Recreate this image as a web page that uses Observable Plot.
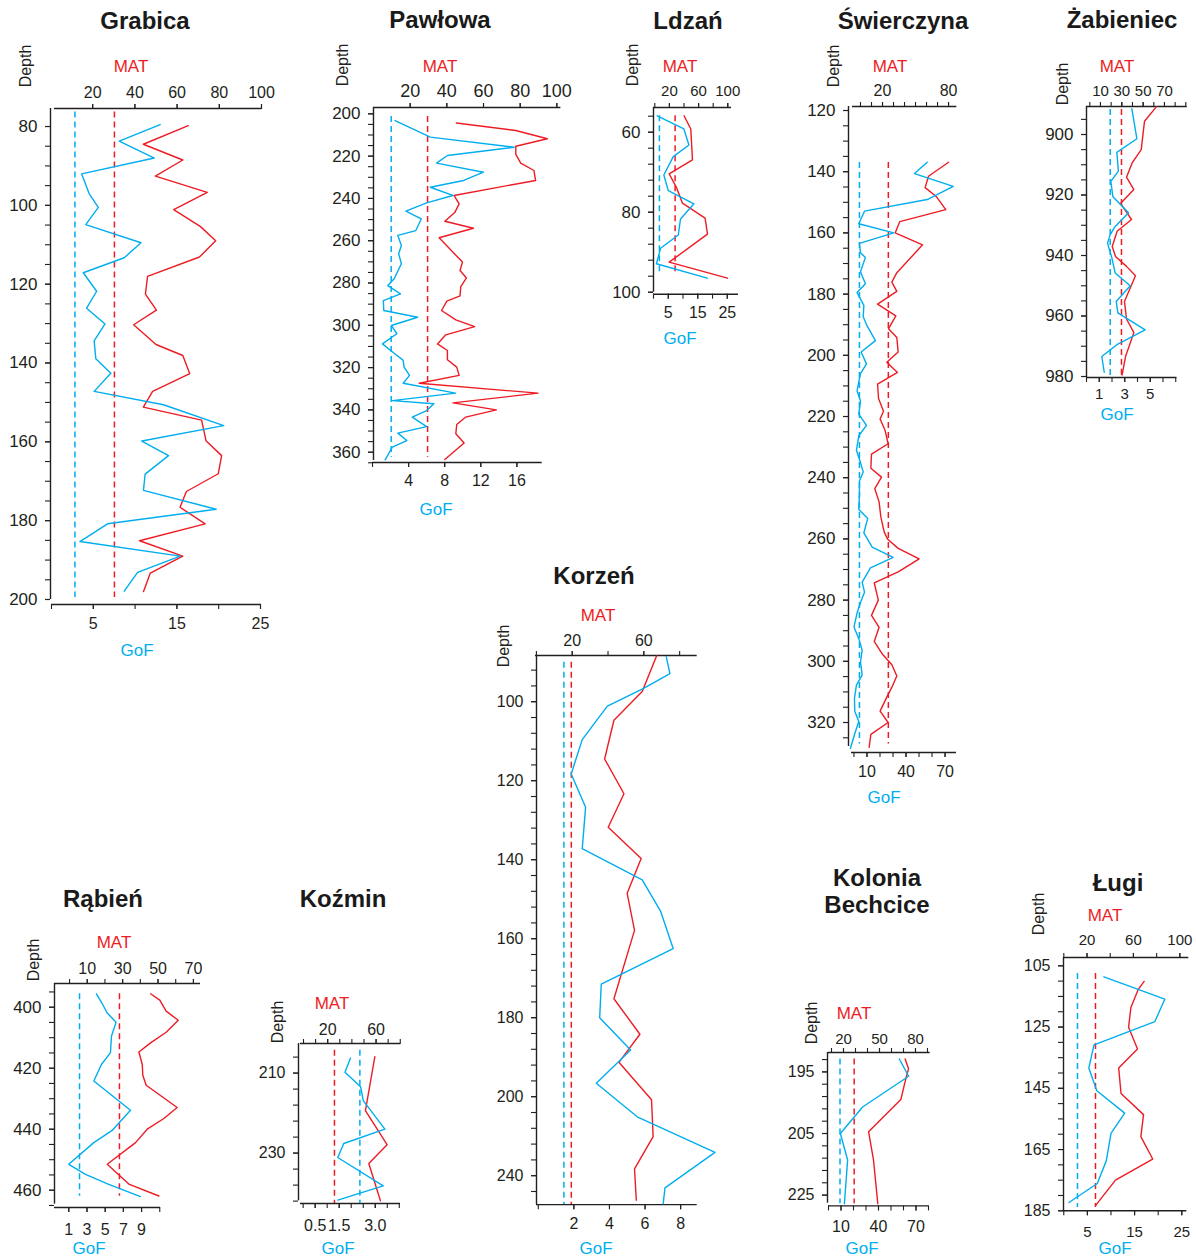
<!DOCTYPE html>
<html><head><meta charset="utf-8">
<script src="https://cdn.jsdelivr.net/npm/d3@7"></script>
<script src="https://cdn.jsdelivr.net/npm/@observablehq/plot@0.6"></script>
<style>
body{margin:0;background:#fff;}
#page{position:relative;width:1196px;height:1258px;overflow:hidden;background:#fff;font-family:'Liberation Sans',Arial,Helvetica,sans-serif;}
.lbl{position:absolute;white-space:pre;text-align:center;line-height:27px;}
</style></head>
<body><div id="page"></div>
<script>
// ---------------- DATA: [depth, value] pairs ----------------
const grabicaMAT = [[79.8,65.3],[84.5,44],[88.5,62.7],[92.6,49.7],[96.7,74.3],[101.1,58.4],[105.4,71.1],[109,78.3],[113.1,70.6],[118,46],[122.5,45],[126.6,50.2],[130.3,39.4],[135.3,50],[138.1,62.7],[142.7,66],[147.2,48.4],[151.2,44],[154.5,71.6],[159.7,73.7],[163.5,81.1],[168.1,79.5],[172.6,64.4],[176.6,61.4],[180.8,73.3],[185.1,42.2],[189,62.7],[193.3,47.3],[198,44.1]];
const grabicaGoF = [[79.5,13],[83.7,8.1],[88,12.3],[92,3.6],[97,4.5],[100.5,5.6],[104.9,4.1],[109.5,10.7],[113.3,8.7],[117.1,3.8],[121.8,5.4],[126.1,4.2],[130.1,6.4],[134.4,5.1],[138.9,5.3],[142.6,7.1],[147.2,5.1],[150.6,13.4],[155.9,20.6],[159.8,10.8],[163.5,14],[168.2,11.2],[172.3,11],[177.1,19.7],[180.8,6.7],[185.3,3.4],[189,15.4],[193.1,10.3],[197.9,8.7]];
const grabicaRef = [30.3, 2.8];

const pawlowaMAT = [[204.3,45.2],[207.9,77.6],[211.8,94.8],[215.3,77.6],[219.2,77.6],[223.3,80.3],[226.8,87.5],[231.5,88.4],[238.6,43.9],[242.6,46.7],[246.7,44.3],[250.8,38.9],[254.1,54.5],[258.6,35.8],[270.1,48.5],[274.1,47.2],[277.6,50.7],[281.7,47.6],[286.1,47.2],[288.6,40],[293,37.1],[297.4,44.9],[300.6,55.2],[304.5,39.4],[308.8,34.9],[311.9,40.3],[316.3,40.3],[319.8,45.4],[323.7,46.7],[327.4,24.9],[332.1,89.7],[336.7,43.4],[340,67],[343.4,50.3],[346.9,45.4],[351.3,44.9],[355.7,49.4],[363.5,38.9]];
const pawlowaGoF = [[203.2,2.5],[211,6.4],[215.8,15.7],[219.7,8.3],[223.3,7.1],[227.6,12.3],[231.5,10.1],[234.7,6.4],[238.6,8.9],[242.1,6],[246,3.7],[249.7,5.4],[255.2,4.8],[257.5,2.8],[262.3,3.2],[266.2,2.9],[270.9,3.2],[278,2.4],[281.2,1.7],[285.1,3.1],[288.3,1.2],[293,1.25],[296.2,5],[300.1,2.1],[304,2.7],[308.8,1.1],[313.2,2.4],[316.6,3.4],[319.8,3.5],[323.7,4.1],[327.4,3.4],[332.1,9.2],[335.6,2.2],[337.1,6.8],[340.3,6],[343.4,4.4],[347.9,6],[351,2.8],[354.5,3.8],[357.6,2.2],[363.6,1.4]];
const pawlowaRef = [29.5, 2.07];

const ldzanMAT = [[55.9,40.1],[59.2,49.3],[66.9,51.6],[70.4,19.6],[74,30.1],[77.75,37.9],[81.5,68.9],[85.5,72.2],[92.5,19.6],[96.5,99.6]];
const ldzanGoF = [[55.9,1.25],[59.2,10.3],[63.2,12],[66.1,6.7],[70.7,3.5],[74.6,5],[77.9,13.7],[81.7,9.15],[85.7,8.4],[89,2.4],[92.9,1],[96.5,18.2]];
const ldzanRef = [27.8, 2.0];

const swierczynaMAT = [[136.9,80],[141.5,61.8],[145.2,58.7],[148.2,69.1],[152.4,77.5],[156.3,35.7],[160,31.5],[163.9,56.4],[173,33],[176.1,28.5],[179.1,33],[183.3,15.5],[187.1,32.1],[191.3,25.5],[194.2,33],[198.9,34.2],[202.3,23.9],[205.6,33.6],[209.4,15.5],[214.1,16.4],[218.3,20.9],[220.8,17.8],[224.6,22.4],[228.9,25.1],[232.3,10],[236.9,9.4],[239.8,19.1],[243.6,13],[247.9,16.9],[252.9,18.5],[257.7,21.5],[260,24.5],[263.1,34.2],[266.5,53.3],[270.7,34.7],[274.4,12.5],[280,16.2],[285,10],[288.9,16.9],[293.5,12.5],[297.7,20],[301.1,28.5],[304.8,33],[308.7,28.2],[311.7,23.9],[316.3,17.8],[320,25.1],[323.9,9.4],[328.1,7.9]];
const swierczynaGoF = [[136.9,56.3],[140.6,46.5],[144.8,76.3],[149.1,56.3],[152.9,8.1],[157,3.7],[160,30.6],[163.4,4.2],[166.5,5],[168,8.8],[172.7,5],[176.6,8.8],[179.5,2.4],[183.7,7.6],[187.4,7.1],[190.4,10.1],[195.2,16.5],[198.9,5.5],[202.8,9.6],[206,5],[208.7,3.7],[211.6,2.4],[214.9,5],[219.2,3.7],[222.9,9.6],[226.3,3.7],[231,1.9],[234.4,4.5],[238.1,7.1],[241.1,4.2],[245.3,4.2],[250.4,3.7],[253.3,10.6],[258,7.6],[262.7,14],[266,30.1],[269.5,12.7],[274.1,6.3],[277.4,8.1],[280.8,5],[284.2,2.4],[288.8,0],[292.6,3.7],[296.4,6.3],[300.2,5],[304.5,6.3],[307.8,1.9],[312,0.4],[316.3,0.6],[319.7,3.7],[323.9,0.4],[328.4,-2.7]];
const swierczynaRef = [25.3, 4.2];

const zabieniecMAT = [[890.8,62.5],[895.6,51.3],[905,48.2],[909.4,39.7],[914.1,34.4],[918.2,41.3],[922.8,28.8],[928.1,39.1],[932,25.6],[937,21],[940.3,24.1],[943.6,34.4],[946.7,42.8],[955.2,32.5],[961,34.4],[965.5,41.3],[973.4,33.5],[979.5,30.3]];
const zabieniecGoF = [[891.5,3.56],[901.4,3.95],[905.9,2.38],[912.1,2.5],[915.5,1.91],[920.6,2.07],[925.9,3.3],[930.4,2.25],[933.1,1.86],[935.9,1.65],[940.8,1.99],[945.8,2.25],[950,3.43],[955.2,2.33],[959,2.46],[964.6,4.6],[969.5,2.38],[973.4,1.2],[978.6,1.39]];
const zabieniecRef = [29.7, 1.86];

const korzenMAT = [[88.4,67.1],[97.4,59.1],[104.7,43.3],[114.5,38.1],[123.3,48.9],[131.8,40.1],[139.7,58.5],[148.5,50.7],[157.9,54.8],[175.2,43.3],[184.2,57.8],[191.3,46.1],[200.8,64.3],[210.1,65.2],[218.3,54.8],[226.2,55.8]];
const korzenGoF = [[88.6,7.19],[92.9,7.4],[96.8,5.84],[101.1,3.88],[109.6,2.47],[118.3,1.85],[126.7,2.66],[137.2,2.47],[145.1,5.84],[153,6.87],[162.5,7.58],[171.5,3.54],[180,3.45],[188.2,5.19],[196.6,3.26],[205.1,5.56],[214.1,9.93],[223.1,7.12],[227.1,7.02]];
const korzenRef = [19.5, 1.44];

const rabienMAT = [[395.6,45.8],[397.7,51],[401.3,54.6],[404.3,61.4],[408.2,54.6],[411.7,45.8],[414.7,39.2],[418.8,41.1],[422.3,41.4],[425.6,43.3],[432.9,60.8],[436.5,53.3],[440,43.9],[444.4,37.3],[451.5,21.3],[458,33.5],[461.9,50.5]];
const rabienGoF = [[395.6,4.04],[398.8,4.67],[401.9,5.22],[404.9,6.2],[409.5,5.69],[414.9,5.58],[418.8,4.59],[424.2,3.75],[433.8,7.78],[440.4,5.77],[444.4,3.75],[451.5,1.0],[454.8,2.84],[458,5.33],[462.1,8.88]];
const rabienRef = [28.2, 2.18];

const kozminMAT = [[205.9,59],[219.4,51.2],[227.9,69.1],[232.6,54],[241.9,63.6]];
const kozminGoF = [[206.25,1.97],[209.8,1.74],[213.4,2.39],[216.9,2.5],[224,3.4],[227.6,1.69],[231.1,1.44],[238.2,3.33],[241.75,1.44]];
const kozminRef = [25.6, 2.36];

const koloniaMAT = [[192.9,71.4],[194.5,74.2],[195.8,72.3],[199.5,67.8],[204.7,40.9],[209.3,45],[216.4,48.6]];
const koloniaGoF = [[192.9,56.7],[195.7,64.1],[200.7,27.3],[205,9.5],[209.3,15.3],[216.4,12.7]];
const koloniaRef = [28.9, 9.2];

const lugiMAT = [[110.1,69.2],[112.6,64.3],[118.6,57.8],[125.1,55.8],[132.2,63.5],[138.4,47.3],[146.7,49.3],[153.6,68.7],[160.8,66.4],[168.1,76.6],[175,44.5],[183.3,27.3]];
const lugiGoF = [[108.6,8.5],[115.9,21.4],[123.2,19.3],[130.8,6.4],[138.4,5.3],[145.8,7.0],[153.1,12.9],[159.7,10],[168.7,9.0],[176.1,7.1],[182.3,1.1]];
const lugiRef = [27.3, 2.9];

// ---------------- TICK LABELS ----------------
const grabicaDepthTicks = [80,100,120,140,160,180,200];
const grabicaMatTicks = [20,40,60,80,100];
const grabicaGofTicks = [5,15,25];
const pawlowaDepthTicks = [200,220,240,260,280,300,320,340,360];
const pawlowaMatTicks = [20,40,60,80,100];
const pawlowaGofTicks = [4,8,12,16];
const ldzanDepthTicks = [60,80,100];
const ldzanMatTicks = [20,60,100];
const ldzanGofTicks = [5,15,25];
const swierczynaDepthTicks = [120,140,160,180,200,220,240,260,280,300,320];
const swierczynaMatTicks = [20,80];
const swierczynaGofTicks = [10,40,70];
const zabieniecDepthTicks = [900,920,940,960,980];
const zabieniecMatTicks = [10,30,50,70];
const zabieniecGofTicks = [1,3,5];
const korzenDepthTicks = [100,120,140,160,180,200,220];
const korzenDepthText = ["100","120","140","160","180","200","240"];
const korzenMatTicks = [20,60];
const korzenGofTicks = [2,4,6,8];
const rabienDepthTicks = [400,420,440,460];
const rabienMatTicks = [10,30,50,70];
const rabienGofTicks = [1,3,5,7,9];
const kozminDepthTicks = [210,230];
const kozminMatTicks = [20,60];
const kozminGofTicks = [0.5,1.5,3.0];
const koloniaDepthTicks = [195,205,215];
const koloniaDepthText = ["195","205","225"];
const koloniaMatTicks = [20,50,80];
const koloniaGofTicks = [10,40,70];
const lugiDepthTicks = [105,125,145,165,185];
const lugiMatTicks = [20,60,100];
const lugiGofTicks = [5,15,25];

// ---------------- STYLE / LAYOUT ----------------
const RED = "#ed1c24", BLUE = "#00aeef", INK = "#231f20";
const FONT = "'Liberation Sans', Arial, Helvetica, sans-serif";
const page = document.getElementById("page");
const seq = (a, b, s) => { const o = []; for (let v = a; v <= b + 1e-9; v += s) o.push(+v.toFixed(6)); return o; };

function svgAt(box, pad, opts) {
  const [pl, pr, pt, pb] = pad;
  const el = Plot.plot({
    width: box.x1 - box.x0 + pl + pr,
    height: box.y1 - box.y0 + pt + pb,
    marginLeft: pl, marginRight: pr, marginTop: pt, marginBottom: pb,
    style: {background: "transparent", overflow: "visible", fontFamily: FONT, fontSize: "16px", color: INK},
    ...opts
  });
  Object.assign(el.style, {position: "absolute", left: (box.x0 - pl) + "px", top: (box.y0 - pt) + "px", maxWidth: "none"});
  page.appendChild(el);
}

function text(t, x, y, css, rot) {
  const d = document.createElement("div");
  d.className = "lbl";
  d.textContent = t;
  Object.assign(d.style, {left: x + "px", top: y + "px", transform: "translate(-50%,-50%)" + (rot ? " rotate(-90deg)" : "")}, css);
  page.appendChild(d);
}

function panel(P) {
  const [d0, d1] = P.depth;
  const dOf = y => d0 + (y - P.top) / (P.bottom - P.top) * (d1 - d0);
  const fmt = P.fmt || (d => String(d));
  const depthText = P.depthText ? (d => P.depthText[P.depthTicks.indexOf(d)]) : (d => String(d));

  // depth axis
  const yb = {x0: P.yAxis.x, x1: P.yAxis.x + 10, y0: P.yAxis.top, y1: P.yAxis.bottom};
  svgAt(yb, [60, 10, 20, 20], {
    x: {domain: [0, 1], axis: null},
    y: {domain: [dOf(yb.y0), dOf(yb.y1)], reverse: true, label: null},
    marks: [
      Plot.axisY(P.depthMinor, {anchor: "left", tickSize: 5, fill: "none", stroke: INK, strokeWidth: 1.1, label: null}),
      Plot.axisY(P.depthTicks, {anchor: "left", tickSize: 5, tickPadding: 8, tickFormat: depthText, fontSize: P.fsY || 17, stroke: INK, fill: INK, strokeWidth: 1.1, label: null}),
      Plot.ruleX([0], {stroke: INK, strokeWidth: 1.4})
    ]
  });

  // MAT (top axis, red)
  const mb = {x0: P.mat.left, x1: P.mat.right, y0: P.top, y1: P.bottom};
  svgAt(mb, [10, 40, 40, 10], {
    x: {domain: P.mat.domain, label: null},
    y: {domain: [d0, d1], reverse: true, axis: null},
    marks: [
      Plot.ruleY([d0], {stroke: INK, strokeWidth: 1.4}),
      Plot.axisX(P.mat.ticks, {anchor: "top", tickSize: 5, fill: "none", stroke: INK, strokeWidth: 1.1, label: null}),
      Plot.axisX(P.mat.labels, {anchor: "top", tickSize: 5, tickPadding: P.padT ?? 5, tickFormat: d => String(d), fontSize: P.fsT || 16, stroke: INK, fill: INK, strokeWidth: 1.1, label: null}),
      Plot.ruleX([P.ref[0]], {y1: P.dash[0], y2: P.dash[1], stroke: RED, strokeWidth: 1.5, strokeDasharray: "6,4"}),
      Plot.line(P.matData, {x: d => d[1], y: d => d[0], stroke: RED, strokeWidth: 1.4})
    ]
  });

  // GoF (bottom axis, blue)
  const gb = {x0: P.gof.left, x1: P.gof.right, y0: P.top, y1: P.bottom};
  svgAt(gb, [10, 40, 10, 40], {
    x: {domain: P.gof.domain, label: null},
    y: {domain: [d0, d1], reverse: true, axis: null},
    marks: [
      Plot.ruleY([d1], {stroke: INK, strokeWidth: 1.4}),
      Plot.axisX(P.gof.ticks, {anchor: "bottom", tickSize: 5, fill: "none", stroke: INK, strokeWidth: 1.1, label: null}),
      Plot.axisX(P.gof.labels, {anchor: "bottom", tickSize: 5, tickPadding: P.padB ?? 6, tickFormat: fmt, fontSize: P.fsB || 16, stroke: INK, fill: INK, strokeWidth: 1.1, label: null}),
      Plot.ruleX([P.ref[1]], {y1: P.dash[0], y2: P.dash[1], stroke: BLUE, strokeWidth: 1.5, strokeDasharray: "6,4"}),
      Plot.line(P.gofData, {x: d => d[1], y: d => d[0], stroke: BLUE, strokeWidth: 1.4})
    ]
  });

  text(P.name, P.titlePos[0], P.titlePos[1], {fontWeight: "bold", fontSize: "24px", color: "#1a1a1a"});
  text("MAT", P.matPos[0], P.matPos[1], {fontSize: "17px", lineHeight: "17px", color: RED});
  text("GoF", P.gofPos[0], P.gofPos[1], {fontSize: "17px", lineHeight: "17px", color: BLUE});
  text("Depth", P.depthPos[0], P.depthPos[1], {fontSize: "16px", lineHeight: "17px", color: INK}, true);
}

const panels = [
  {name: "Grabica", top: 108, bottom: 604, depth: [75.43, 201.27],
   yAxis: {x: 50, top: 108, bottom: 599}, depthTicks: grabicaDepthTicks, depthMinor: seq(80, 200, 5),
   mat: {left: 54, right: 261, domain: [1.9, 100], ticks: grabicaMatTicks, labels: grabicaMatTicks},
   gof: {left: 51, right: 261, domain: [0, 25.12], ticks: seq(0, 25, 5), labels: grabicaGofTicks},
   matData: grabicaMAT, gofData: grabicaGoF, ref: grabicaRef, dash: [76.3, 199.5], padT: 6, padB: 8,
   titlePos: [145, 20], matPos: [131, 66], gofPos: [137, 650], depthPos: [25, 66]},
  {name: "Pawłowa", top: 107, bottom: 462, depth: [197.0, 364.87],
   yAxis: {x: 372.7, top: 107, bottom: 460}, depthTicks: pawlowaDepthTicks, depthMinor: seq(200, 365, 5),
   mat: {left: 372.6, right: 560, domain: [0, 102.2], ticks: pawlowaMatTicks, labels: pawlowaMatTicks},
   gof: {left: 372, right: 541.7, domain: [0, 18.8], ticks: seq(0, 16, 4), labels: pawlowaGofTicks},
   matData: pawlowaMAT, gofData: pawlowaGoF, ref: pawlowaRef, dash: [201.3, 362.4], fsT: 18, padT: 5, padB: 7,
   titlePos: [440, 19], matPos: [440, 66], gofPos: [436, 509], depthPos: [342, 65]},
  {name: "Ldzań", top: 107.3, bottom: 294, depth: [53.83, 100.5],
   yAxis: {x: 652.7, top: 107.3, bottom: 292}, depthTicks: ldzanDepthTicks, depthMinor: seq(56, 100, 4),
   mat: {left: 652.7, right: 730.7, domain: [-1.8, 105.1], ticks: seq(0, 100, 20), labels: ldzanMatTicks},
   gof: {left: 653, right: 738, domain: [0, 28.8], ticks: seq(0, 25, 5), labels: ldzanGofTicks},
   matData: ldzanMAT, gofData: ldzanGoF, ref: ldzanRef, dash: [55.9, 95.3], fsT: 15, padT: 6, padB: 7,
   titlePos: [688, 20], matPos: [680, 66], gofPos: [680, 338], depthPos: [632, 65]},
  {name: "Świerczyna", top: 106, bottom: 752, depth: [118.69, 329.8],
   yAxis: {x: 848.3, top: 106, bottom: 746}, depthTicks: swierczynaDepthTicks, depthMinor: seq(120, 325, 5),
   mat: {left: 851.7, right: 956, domain: [-7.27, 87.5], ticks: seq(0, 80, 10), labels: swierczynaMatTicks},
   gof: {left: 851, right: 956, domain: [-1.9, 78.8], ticks: seq(0, 70, 10), labels: swierczynaGofTicks},
   matData: swierczynaMAT, gofData: swierczynaGoF, ref: swierczynaRef, dash: [137, 327], padT: 5, padB: 8,
   titlePos: [903, 20], matPos: [890, 66], gofPos: [884, 797], depthPos: [833, 66]},
  {name: "Żabieniec", top: 106, bottom: 377, depth: [890.74, 980.33],
   yAxis: {x: 1086, top: 106, bottom: 377}, depthTicks: zabieniecDepthTicks, depthMinor: seq(895, 980, 5),
   mat: {left: 1086, right: 1186.7, domain: [-3.1, 91.3], ticks: seq(0, 90, 10), labels: zabieniecMatTicks},
   gof: {left: 1086.3, right: 1176.7, domain: [0, 7.09], ticks: seq(0, 7, 1), labels: zabieniecGofTicks},
   matData: zabieniecMAT, gofData: zabieniecGoF, ref: zabieniecRef, dash: [891.7, 979.7], fsT: 15, fsB: 15, padT: 5, padB: 6,
   titlePos: [1122, 19], matPos: [1117, 66], gofPos: [1117, 414], depthPos: [1062, 84]},
  {name: "Korzeń", top: 654.8, bottom: 1204, depth: [88.3, 227.34],
   yAxis: {x: 536, top: 654.8, bottom: 1204}, depthTicks: korzenDepthTicks, depthText: korzenDepthText, depthMinor: seq(92, 224, 4),
   mat: {left: 535, right: 696.7, domain: [-0.5, 89.8], ticks: seq(0, 80, 20), labels: korzenMatTicks},
   gof: {left: 536, right: 696.7, domain: [-0.1, 8.93], ticks: seq(0, 8, 2), labels: korzenGofTicks},
   matData: korzenMAT, gofData: korzenGoF, ref: korzenRef, dash: [90, 227.3], fsY: 16, padT: 4, padB: 8,
   titlePos: [594, 575], matPos: [598, 615], gofPos: [596, 1248], depthPos: [503, 646]},
  {name: "Rąbień", top: 983.3, bottom: 1207.3, depth: [392.23, 465.67],
   yAxis: {x: 54, top: 983.3, bottom: 1204}, depthTicks: rabienDepthTicks, depthMinor: seq(395, 465, 5),
   mat: {left: 54, right: 200, domain: [-8.5, 74], ticks: seq(0, 70, 10), labels: rabienMatTicks},
   gof: {left: 54, right: 160, domain: [-0.57, 11.08], ticks: seq(1, 11, 2), labels: rabienGofTicks},
   matData: rabienMAT, gofData: rabienGoF, ref: rabienRef, dash: [395.6, 462], padT: 5, padB: 11,
   titlePos: [103, 898], matPos: [114, 942], gofPos: [89, 1248], depthPos: [33, 960]},
  {name: "Koźmin", top: 1042.7, bottom: 1202.7, depth: [202.6, 242.6],
   yAxis: {x: 298, top: 1042.7, bottom: 1200}, depthTicks: kozminDepthTicks, depthMinor: seq(206, 242, 4),
   mat: {left: 300, right: 400, domain: [-2.48, 80.2], ticks: seq(0, 80, 10), labels: kozminMatTicks},
   gof: {left: 300, right: 400, domain: [-0.11, 4.05], ticks: seq(0, 4, 0.5), labels: kozminGofTicks},
   matData: kozminMAT, gofData: kozminGoF, ref: kozminRef, dash: [204.3, 242.6], fsY: 16, fmt: d => d.toFixed(1), padT: 4, padB: 11,
   titlePos: [343, 898], matPos: [332, 1003], gofPos: [338, 1248], depthPos: [277, 1022]},
  {name: "Kolonia\nBechcice", top: 1052.3, bottom: 1205.7, depth: [191.85, 216.75],
   yAxis: {x: 826.7, top: 1052.3, bottom: 1203}, depthTicks: koloniaDepthTicks, depthText: koloniaDepthText, depthMinor: seq(193, 215, 2),
   mat: {left: 828.3, right: 930, domain: [7.5, 92.25], ticks: seq(10, 90, 10), labels: koloniaMatTicks},
   gof: {left: 827.5, right: 928, domain: [0, 80.4], ticks: seq(0, 80, 10), labels: koloniaGofTicks},
   matData: koloniaMAT, gofData: koloniaGoF, ref: koloniaRef, dash: [192.9, 216.4], fsY: 16, fsT: 15, padT: 3, padB: 10,
   titlePos: [877, 891], matPos: [854, 1013], gofPos: [862, 1248], depthPos: [811, 1023]},
  {name: "Ługi", top: 956.7, bottom: 1210, depth: [102.29, 185],
   yAxis: {x: 1062.7, top: 956.7, bottom: 1210}, depthTicks: lugiDepthTicks, depthMinor: seq(105, 185, 5),
   mat: {left: 1062.7, right: 1188, domain: [-0.26, 107.7], ticks: seq(0, 100, 20), labels: lugiMatTicks},
   gof: {left: 1062.7, right: 1186, domain: [-0.06, 26.06], ticks: seq(0, 25, 5), labels: lugiGofTicks},
   matData: lugiMAT, gofData: lugiGoF, ref: lugiRef, dash: [107.5, 183.9], fsY: 16, fsT: 15, fsB: 15, padT: 7, padB: 11,
   titlePos: [1118, 882], matPos: [1105, 915], gofPos: [1115, 1248], depthPos: [1038, 914]}
];

panels.forEach(panel);
</script>
</body></html>
